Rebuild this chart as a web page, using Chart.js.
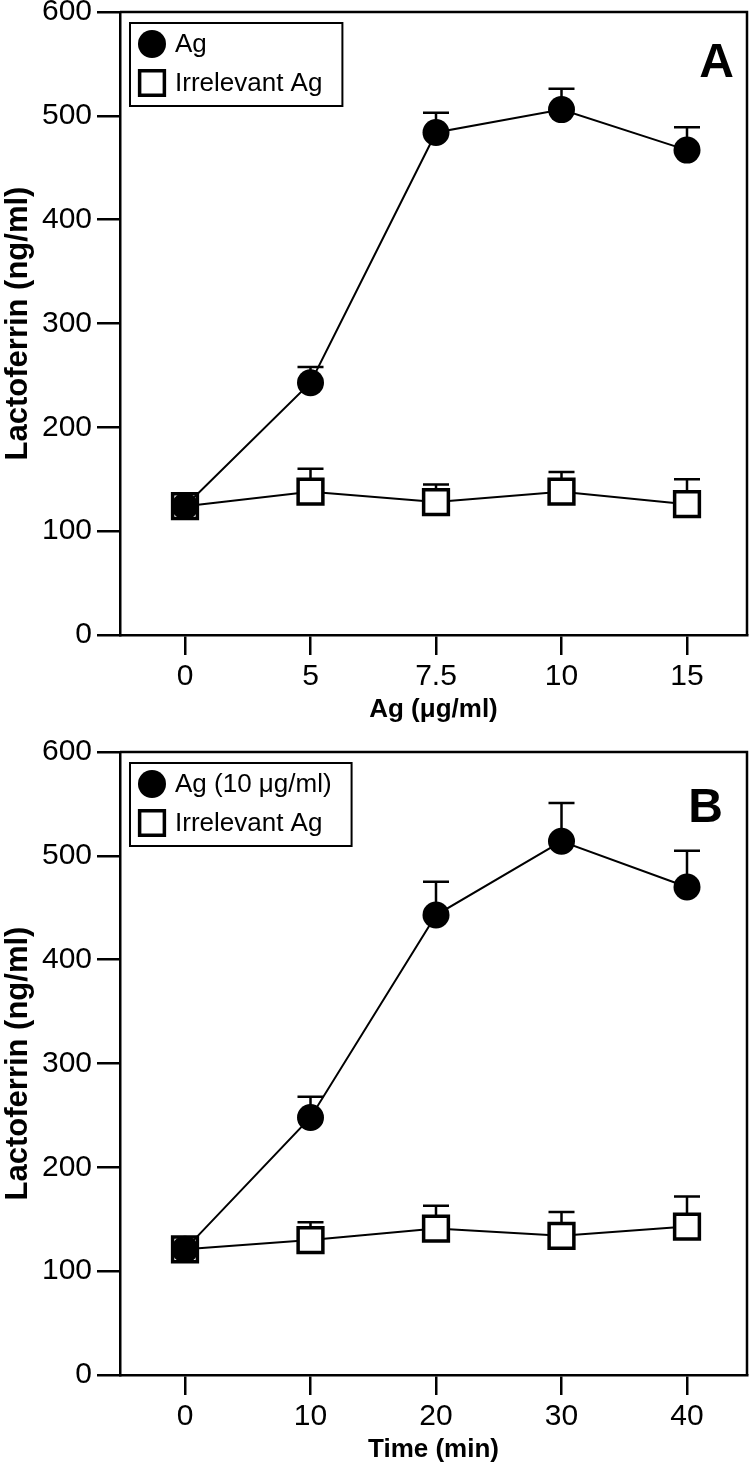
<!DOCTYPE html>
<html>
<head>
<meta charset="utf-8">
<script src="https://cdn.jsdelivr.net/npm/chart.js@4.4.1/dist/chart.umd.min.js"></script>
<style>
  html, body { margin: 0; padding: 0; background: #fff; overflow: hidden; }
  .panel { position: relative; width: 750px; }
</style>
</head>
<body>
<div class="panel" style="height:740px"><canvas id="chartA"></canvas></div>
<div class="panel" style="height:725px"><canvas id="chartB"></canvas></div>
<script>
// panel A: dose response
const doseLabels = ['0', '5', '7.5', '10', '15'];
const dosePos = [0, 1, 2, 3, 4];
const agDose = [124, 243, 484, 506, 467];
const agDoseErr = [0, 15, 19, 20, 22];
const irrDose = [124, 138, 128, 138, 126];
const irrDoseErr = [0, 22, 17, 19, 24];

// panel B: time course
const timeLabels = ['0', '10', '20', '30', '40'];
const timePos = [0, 10, 20, 30, 40];
const agTime = [121, 248, 443, 514, 470];
const agTimeErr = [0, 20, 32, 37, 35];
const irrTime = [121, 130, 141, 134, 143];
const irrTimeErr = [0, 17, 22, 23, 29];

const yTicks = [0, 100, 200, 300, 400, 500, 600];

const FONT = '"Liberation Sans", Arial, sans-serif';
const LW = 2.5;

const toPoints = (xs, ys) => xs.map((x, i) => ({ x: x, y: ys[i] }));

// T-shaped upper error bars, drawn under the markers
const errorBars = {
    id: 'errorBars',
    beforeDatasetsDraw(chart) {
        const { ctx, scales: { x, y } } = chart;
        ctx.save();
        ctx.strokeStyle = '#000';
        ctx.lineWidth = LW;
        chart.data.datasets.forEach(ds => {
            ds.data.forEach((p, i) => {
                const err = ds.errors[i];
                if (!err) return;
                const px = x.getPixelForValue(p.x);
                const py = y.getPixelForValue(p.y);
                const pe = y.getPixelForValue(p.y + err);
                ctx.beginPath();
                ctx.moveTo(px, py);
                ctx.lineTo(px, pe);
                ctx.moveTo(px - 13, pe);
                ctx.lineTo(px + 13, pe);
                ctx.stroke();
            });
        });
        ctx.restore();
    }
};

// closed frame + boxed legend + panel letter
const frameLegend = {
    id: 'frameLegend',
    afterDatasetsDraw(chart, args, opts) {
        const { ctx, chartArea: a } = chart;
        ctx.save();
        ctx.strokeStyle = '#000';
        ctx.lineWidth = LW;
        ctx.beginPath();
        ctx.moveTo(a.left, a.top);
        ctx.lineTo(a.right, a.top);
        ctx.lineTo(a.right, a.bottom);
        ctx.stroke();

        // legend box
        ctx.font = '26px ' + FONT;
        const textX = a.left + 55;
        const widths = chart.data.datasets.map(ds => ctx.measureText(ds.label).width);
        const boxL = a.left + 10;
        const boxT = a.top + 11;
        const boxW = textX + Math.max(...widths) + 20 - boxL;
        const boxH = 83;
        ctx.lineWidth = 2;
        ctx.strokeRect(boxL, boxT, boxW, boxH);

        chart.data.datasets.forEach((ds, i) => {
            const cy = boxT + 21 + i * 39;
            ctx.fillStyle = ds.pointBackgroundColor;
            ctx.strokeStyle = '#000';
            ctx.lineWidth = ds.pointBorderWidth;
            Chart.helpers.drawPoint(ctx, {
                pointStyle: ds.pointStyle,
                rotation: 0,
                radius: ds.pointStyle === 'rect' ? 17.5 : 14,
                borderWidth: ds.pointBorderWidth
            }, a.left + 32, cy);
            ctx.fillStyle = '#000';
            ctx.textBaseline = 'middle';
            ctx.textAlign = 'left';
            ctx.fillText(ds.label, textX, cy + 1);
        });

        // panel letter
        ctx.font = 'bold 48px ' + FONT;
        ctx.textAlign = 'right';
        ctx.textBaseline = 'alphabetic';
        ctx.fillStyle = '#000';
        ctx.fillText(opts.letter, opts.letterRight, a.top + opts.letterBase);
        ctx.restore();
    }
};

function makePanel(canvasId, cfg) {
    const span = 627 / 125.5 * cfg.step;
    const xMin = -65 / 125.5 * cfg.step;

    return new Chart(document.getElementById(canvasId), {
        type: 'line',
        data: {
            datasets: [{
                label: cfg.agLabel,
                data: toPoints(cfg.xPos, cfg.ag),
                errors: cfg.agErr,
                borderColor: '#000',
                borderWidth: 2,
                pointStyle: 'circle',
                pointRadius: 13.5,
                pointBackgroundColor: '#000',
                pointBorderColor: '#000',
                pointBorderWidth: 0,
                tension: 0
            }, {
                label: 'Irrelevant Ag',
                data: toPoints(cfg.xPos, cfg.irr),
                errors: cfg.irrErr,
                borderColor: '#000',
                borderWidth: 2,
                pointStyle: 'rect',
                pointRadius: 17.5,
                pointBackgroundColor: '#fff',
                pointBorderColor: '#000',
                pointBorderWidth: 3.5,
                tension: 0
            }]
        },
        options: {
            responsive: true,
            maintainAspectRatio: false,
            animation: false,
            layout: {
                autoPadding: false,
                padding: { left: 0, top: 12, right: 3, bottom: cfg.padBottom }
            },
            plugins: {
                legend: { display: false },
                tooltip: { enabled: false },
                frameLegend: {
                    letter: cfg.letter,
                    letterRight: cfg.letterRight,
                    letterBase: cfg.letterBase
                }
            },
            scales: {
                x: {
                    type: 'linear',
                    min: xMin,
                    max: xMin + span,
                    afterBuildTicks: s => {
                        s.ticks = cfg.xPos.map(v => ({ value: v }));
                    },
                    afterFit: s => {
                        s.height = 90;
                        s.paddingLeft = 0;
                        s.paddingRight = 0;
                    },
                    ticks: {
                        autoSkip: false,
                        maxRotation: 0,
                        color: '#000',
                        padding: 4,
                        font: { size: 30, family: FONT },
                        callback: function(value, index) {
                            return cfg.xLabels[index];
                        }
                    },
                    grid: {
                        drawOnChartArea: false,
                        drawTicks: true,
                        tickLength: 20,
                        color: '#000',
                        lineWidth: LW
                    },
                    border: { display: true, color: '#000', width: LW },
                    title: {
                        display: true,
                        text: cfg.xTitle,
                        color: '#000',
                        padding: 0,
                        font: { size: 26, weight: 'bold', family: FONT }
                    }
                },
                y: {
                    min: 0,
                    max: 600,
                    afterBuildTicks: s => {
                        s.ticks = yTicks.map(v => ({ value: v }));
                    },
                    afterFit: s => {
                        s.width = 120;
                        s.paddingTop = 0;
                        s.paddingBottom = 0;
                    },
                    ticks: {
                        color: '#000',
                        padding: 5,
                        font: { size: 30, family: FONT }
                    },
                    grid: {
                        drawOnChartArea: false,
                        drawTicks: true,
                        tickLength: 23,
                        color: '#000',
                        lineWidth: LW
                    },
                    border: { display: true, color: '#000', width: LW },
                    title: {
                        display: true,
                        text: 'Lactoferrin (ng/ml)',
                        color: '#000',
                        padding: 0,
                        font: { size: 31, weight: 'bold', family: FONT }
                    }
                }
            }
        },
        plugins: [errorBars, frameLegend]
    });
}

makePanel('chartA', {
    xPos: dosePos, xLabels: doseLabels, step: 1,
    ag: agDose, agErr: agDoseErr, irr: irrDose, irrErr: irrDoseErr,
    agLabel: 'Ag', xTitle: 'Ag (μg/ml)',
    letter: 'A', letterRight: 734, letterBase: 65, padBottom: 15
});

makePanel('chartB', {
    xPos: timePos, xLabels: timeLabels, step: 10,
    ag: agTime, agErr: agTimeErr, irr: irrTime, irrErr: irrTimeErr,
    agLabel: 'Ag (10 μg/ml)', xTitle: 'Time (min)',
    letter: 'B', letterRight: 723, letterBase: 70, padBottom: 0
});
</script>
</body>
</html>
